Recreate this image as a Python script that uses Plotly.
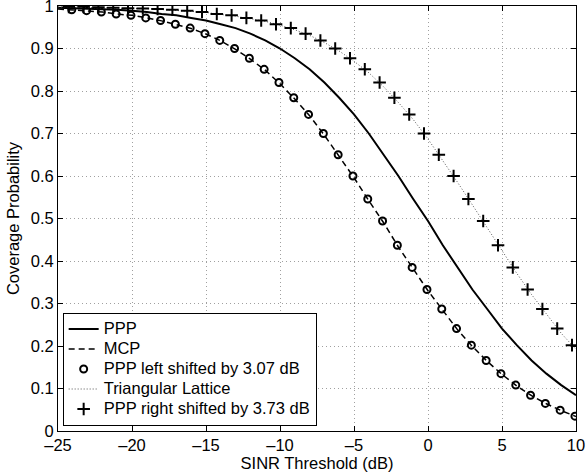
import plotly.graph_objects as go

# SINR threshold grid (dB) for the continuous curves
sinr_db = list(range(-25, 11))

# Curves (coverage probability at each integer dB)
ppp = [0.996, 0.995, 0.994, 0.993, 0.991, 0.989, 0.986, 0.981, 0.978, 0.972,
       0.966, 0.957, 0.948, 0.935, 0.919, 0.900, 0.877, 0.851, 0.820, 0.784,
       0.745, 0.700, 0.650, 0.600, 0.546, 0.494, 0.437, 0.385, 0.333, 0.287,
       0.241, 0.202, 0.166, 0.135, 0.108, 0.084]
mcp = [0.993, 0.991, 0.989, 0.986, 0.981, 0.978, 0.972, 0.965, 0.956, 0.947,
       0.934, 0.918, 0.898, 0.875, 0.849, 0.817, 0.781, 0.742, 0.696, 0.646,
       0.596, 0.542, 0.490, 0.433, 0.381, 0.330, 0.284, 0.238, 0.199, 0.164,
       0.133, 0.106, 0.083, 0.064, 0.048, 0.034]
lattice = [0.998, 0.997, 0.997, 0.996, 0.995, 0.994, 0.994, 0.992, 0.990,
           0.988, 0.985, 0.980, 0.976, 0.970, 0.964, 0.955, 0.944, 0.931, 0.914,
           0.894, 0.870, 0.843, 0.810, 0.773, 0.733, 0.687, 0.637, 0.585, 0.532,
           0.479, 0.423, 0.371, 0.321, 0.275, 0.230, 0.192]

# PPP left shifted by 3.07 dB (circle markers)
left_x = [-24.07, -23.07, -22.07, -21.07, -20.07, -19.07, -18.07, -17.07, -16.07,
          -15.07, -14.07, -13.07, -12.07, -11.07, -10.07, -9.07, -8.07, -7.07,
          -6.07, -5.07, -4.07, -3.07, -2.07, -1.07, -0.07, 0.93, 1.93, 2.93,
          3.93, 4.93, 5.93, 6.93, 7.93, 8.93, 9.93]
left_y = [0.991, 0.989, 0.986, 0.981, 0.978, 0.972, 0.966, 0.957, 0.948,
          0.935, 0.919, 0.900, 0.877, 0.851, 0.820, 0.784, 0.745, 0.700,
          0.650, 0.600, 0.546, 0.494, 0.437, 0.385, 0.333, 0.287, 0.241, 0.202,
          0.166, 0.135, 0.108, 0.084, 0.065, 0.049, 0.035]

# PPP right shifted by 3.73 dB (plus markers)
right_x = [-24.27, -23.27, -22.27, -21.27, -20.27, -19.27, -18.27, -17.27, -16.27,
           -15.27, -14.27, -13.27, -12.27, -11.27, -10.27, -9.27, -8.27, -7.27,
           -6.27, -5.27, -4.27, -3.27, -2.27, -1.27, -0.27, 0.73, 1.73, 2.73,
           3.73, 4.73, 5.73, 6.73, 7.73, 8.73, 9.73]
right_y = [0.998, 0.998, 0.997, 0.996, 0.995, 0.994, 0.993, 0.991, 0.989,
           0.986, 0.981, 0.978, 0.972, 0.966, 0.957, 0.948, 0.935, 0.919,
           0.900, 0.877, 0.851, 0.820, 0.784, 0.745, 0.700, 0.650, 0.600, 0.546,
           0.494, 0.437, 0.385, 0.333, 0.287, 0.241, 0.202]

x_ticks = [-25, -20, -15, -10, -5, 0, 5, 10]
x_tick_labels = ["\u201325", "\u201320", "\u201315", "\u201310", "\u20135", "0", "5", "10"]
y_ticks = [0, 0.1, 0.2, 0.3, 0.4, 0.5, 0.6, 0.7, 0.8, 0.9, 1]
y_tick_labels = ["0", "0.1", "0.2", "0.3", "0.4", "0.5", "0.6", "0.7", "0.8", "0.9", "1"]

series_names = ["PPP", "MCP", "PPP left shifted by 3.07 dB", "Triangular Lattice",
                "PPP right shifted by 3.73 dB"]

FONT = "Liberation Sans, Arial, Helvetica, sans-serif"
FS = 16.5
LEG_FS = 13.1  # controls the (tight) legend row spacing


def leg(name):
    return '<span style="font-size:%.1fpx">%s</span>' % (FS, name)


fig = go.Figure()
fig.add_trace(go.Scatter(x=sinr_db, y=ppp, mode="lines", name=leg(series_names[0]),
                         line=dict(color="black", width=2)))
fig.add_trace(go.Scatter(x=sinr_db, y=mcp, mode="lines", name=leg(series_names[1]),
                         line=dict(color="black", width=1.5, dash="6px,4px")))
fig.add_trace(go.Scatter(x=left_x, y=left_y, mode="markers",
                         name=leg(series_names[2]),
                         marker=dict(symbol="circle-open", size=7, color="black",
                                     line=dict(width=2, color="black"))))
fig.add_trace(go.Scatter(x=sinr_db, y=lattice, mode="lines", name=leg(series_names[3]),
                         line=dict(color="#555555", width=1, dash="1px,2px")))
fig.add_trace(go.Scatter(x=right_x, y=right_y, mode="markers",
                         name=leg(series_names[4]),
                         marker=dict(symbol="cross-thin-open", size=9, color="black",
                                     line=dict(width=2, color="black"))))

axis_common = dict(
    showline=True, linecolor="black", linewidth=1, mirror="ticks",
    ticks="inside", ticklen=5, tickcolor="black", tickwidth=1,
    showgrid=True, gridcolor="#a0a0a0", gridwidth=1, griddash="1px,3px",
    zeroline=False, ticklabeloverflow="allow", automargin=False,
    tickfont=dict(family=FONT, size=FS, color="black"),
)

fig.update_xaxes(range=[-25, 10], tickvals=x_ticks, ticktext=x_tick_labels,
                 ticklabelstandoff=-1,
                 title=dict(text="SINR Threshold (dB)", standoff=4,
                            font=dict(family=FONT, size=FS, color="black")),
                 **axis_common)
fig.update_yaxes(range=[0, 1], tickvals=y_ticks, ticktext=y_tick_labels,
                 ticklabelstandoff=0,
                 title=dict(text="Coverage Probability", standoff=6,
                            font=dict(family=FONT, size=FS, color="black")),
                 **axis_common)

fig.update_layout(
    width=586, height=476,
    margin=dict(l=58, r=10, t=6, b=45),
    paper_bgcolor="white", plot_bgcolor="white",
    font=dict(family=FONT, size=FS, color="black"),
    showlegend=True,
    legend=dict(x=0.009, y=0.012, xanchor="left", yanchor="bottom",
                bgcolor="white", bordercolor="black", borderwidth=1,
                font=dict(family=FONT, size=LEG_FS, color="black"),
                itemwidth=30, tracegroupgap=0),
)

fig.write_html("out.html", config={"displayModeBar": False},
               post_script="document.body.style.margin='0';document.body.style.overflow='hidden';")
